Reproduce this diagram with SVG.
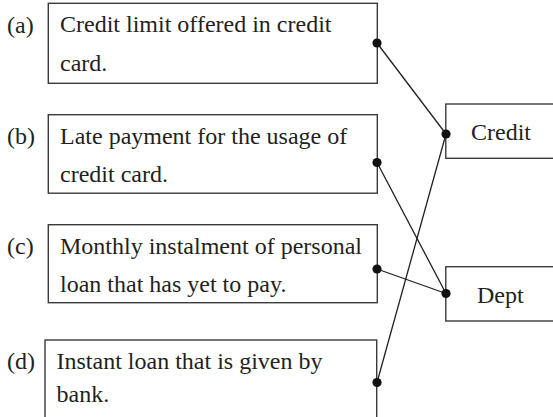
<svg xmlns="http://www.w3.org/2000/svg" width="553" height="417" viewBox="0 0 553 417">
<style>
.box{fill:#fff;stroke:#3a3a3a;stroke-width:1.4}
.t{font-family:"Liberation Serif",serif;font-size:24px;fill:#231f20}
.lbl{font-family:"Liberation Serif",serif;font-size:24px;fill:#231f20}
.ln{stroke:#231f20;stroke-width:1.3;fill:none}
.dot{fill:#111}
</style>
<rect width="553" height="417" fill="#fff"/>
<g id="node-a">
<text class="lbl" x="7" y="33">(a)</text>
<rect class="box" x="48.3" y="3.3" width="329" height="80"/>
<text class="t" x="60" y="32">Credit limit offered in credit</text>
<text class="t" x="60" y="71">card.</text>
</g>
<g id="node-b">
<text class="lbl" x="7" y="143.5">(b)</text>
<rect class="box" x="48.3" y="114.7" width="329" height="78.5"/>
<text class="t" x="60" y="143.5">Late payment for the usage of</text>
<text class="t" x="60" y="181.5">credit card.</text>
</g>
<g id="node-c">
<text class="lbl" x="7" y="254">(c)</text>
<rect class="box" x="48.3" y="224.7" width="329" height="78"/>
<text class="t" x="60" y="254">Monthly instalment of personal</text>
<text class="t" x="60" y="291.5">loan that has yet to pay.</text>
</g>
<g id="node-d">
<text class="lbl" x="7" y="368.5">(d)</text>
<rect class="box" x="45" y="340" width="331.7" height="90"/>
<text class="t" x="56.5" y="368.5">Instant loan that is given by</text>
<text class="t" x="56.5" y="402">bank.</text>
</g>
<g id="node-credit">
<rect class="box" x="445.8" y="104" width="120" height="54.3"/>
<text class="t" x="471" y="140">Credit</text>
</g>
<g id="node-dept">
<rect class="box" x="445.8" y="266.7" width="120" height="54.3"/>
<text class="t" x="477" y="303">Dept</text>
</g>
<g id="connectors">
<line class="ln" x1="377" y1="43" x2="446" y2="134"/>
<line class="ln" x1="377" y1="162.5" x2="446" y2="293.5"/>
<line class="ln" x1="377" y1="269" x2="446" y2="293.5"/>
<line class="ln" x1="377" y1="382.5" x2="446" y2="134"/>
<circle class="dot" cx="377" cy="43" r="4.6"/>
<circle class="dot" cx="377" cy="162.5" r="4.6"/>
<circle class="dot" cx="377" cy="269" r="4.6"/>
<circle class="dot" cx="377" cy="382.5" r="4.6"/>
<circle class="dot" cx="446" cy="134" r="4.6"/>
<circle class="dot" cx="446" cy="293.5" r="4.6"/>
</g>
</svg>
